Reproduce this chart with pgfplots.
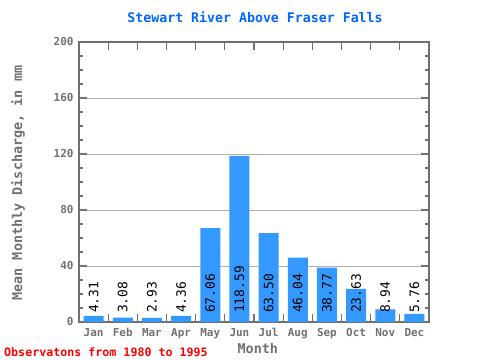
\documentclass[border=0pt]{standalone}
\usepackage{pgfplots}
\pgfplotsset{compat=1.18}
\usepackage{fontspec}
\setmainfont{DejaVu Sans Mono}
\definecolor{titleblue}{RGB}{0,102,255}
\definecolor{barblue}{RGB}{51,153,255}
\definecolor{axgray}{RGB}{112,112,112}
\definecolor{gridgray}{RGB}{176,176,176}
\begin{document}
\begin{tikzpicture}
\path[use as bounding box] (0,0) rectangle (480bp,360bp);
\begin{axis}[
  at={(79bp,38bp)}, anchor=south west,
  scale only axis, width=350bp, height=280bp,
  xmin=-0.5, xmax=11.5, ymin=0, ymax=200,
  axis line style={axgray, line width=1.5pt},
  xtick={0.5,1.5,...,10.5},
  xticklabel=\empty,
  extra x ticks={0,...,11},
  extra x tick labels={Jan,Feb,Mar,Apr,May,Jun,Jul,Aug,Sep,Oct,Nov,Dec},
  extra x tick style={major tick length=0pt},
  ytick={0,40,...,200},
  minor ytick={10,20,30,50,60,70,90,100,110,130,140,150,170,180,190},
  tick align=inside,
  tick pos=both,
  major tick length=8bp, minor tick length=4bp,
  every tick/.style={axgray, line width=1.2pt},
  ymajorgrids, grid style={gridgray, line width=0.8pt},
  /pgf/number format/assume math mode=true,
  ticklabel style={font=\bfseries\fontsize{11}{12}\selectfont, text=axgray},
  yticklabel style={xshift=-2bp},
  xticklabel style={yshift=-3bp},
  title={Stewart River Above Fraser Falls},
  title style={at={(0.503,1.066)}, anchor=center, font=\bfseries\fontsize{13.3}{15}\selectfont, text=titleblue},
  xlabel={Month},
  xlabel style={at={(0.511,-0.093)}, anchor=center, font=\bfseries\fontsize{13.5}{15}\selectfont, text=axgray},
  ylabel={Mean Monthly Discharge, in mm},
  ylabel style={at={(-0.174,0.496)}, anchor=center, rotate=0, font=\bfseries\fontsize{13.5}{15}\selectfont, text=axgray},
  clip=false,
]
\addplot[ybar, bar width=20bp, fill=barblue, draw=none] coordinates {
(0,4.31) (1,3.08) (2,2.93) (3,4.36) (4,67.06) (5,118.59)
(6,63.50) (7,46.04) (8,38.77) (9,23.63) (10,8.94) (11,5.76)};
\addplot[draw=none, mark=none, nodes near coords, point meta=explicit symbolic,
  every node near coord/.style={yshift=9bp, rotate=90, anchor=west, inner sep=0pt, text=black, font=\fontsize{13}{14}\selectfont}]
 coordinates {
(0,0)[4.31] (1,0)[3.08] (2,0)[2.93] (3,0)[4.36] (4,0)[67.06] (5,0)[118.59]
(6,0)[63.50] (7,0)[46.04] (8,0)[38.77] (9,0)[23.63] (10,0)[8.94] (11,0)[5.76]};
\end{axis}
\node[anchor=west, inner sep=0pt, text=red, font=\bfseries\fontsize{11.7}{13}\selectfont] at (4bp,8bp) {Observatons from 1980 to 1995};
\end{tikzpicture}
\end{document}
